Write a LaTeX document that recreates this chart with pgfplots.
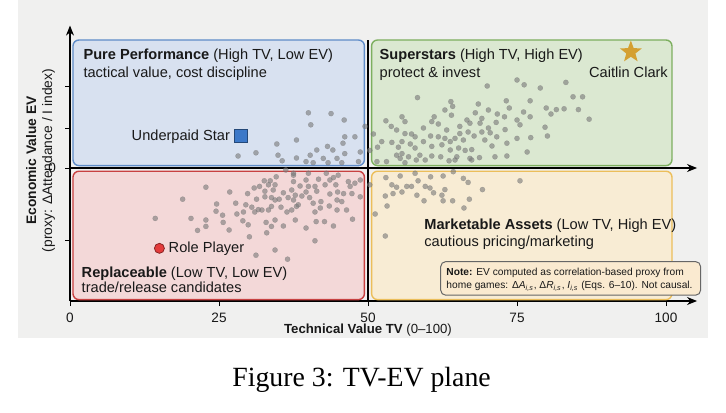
\documentclass[border=0pt]{standalone}
\usepackage{fontspec}
\setmainfont{Liberation Sans}
\newfontfamily\capfont{Liberation Serif}
\usepackage{pgfplots}
\pgfplotsset{compat=1.18}
\usetikzlibrary{arrows.meta,shapes.geometric}

\definecolor{panel}{RGB}{240,240,239}
\definecolor{bluefill}{RGB}{216,225,240}
\definecolor{blueedge}{RGB}{95,140,200}
\definecolor{greenfill}{RGB}{219,232,209}
\definecolor{greenedge}{RGB}{125,175,95}
\definecolor{redfill}{RGB}{243,216,216}
\definecolor{rededge}{RGB}{200,65,65}
\definecolor{yellowfill}{RGB}{248,236,212}
\definecolor{yellowedge}{RGB}{236,190,90}
\definecolor{notefill}{RGB}{250,234,208}
\definecolor{ptgray}{RGB}{120,120,120}
\definecolor{sqblue}{RGB}{60,120,200}
\definecolor{gold}{RGB}{212,160,50}
\definecolor{rpred}{RGB}{228,60,60}
\definecolor{txt}{RGB}{25,25,25}

\pgfdeclareplotmark{fstar}{\node[star,star points=5,star point ratio=2.4,minimum size=11.5pt,inner sep=0pt,fill=gold,draw=none]{};}

\pgfplotstableread{
x y
34.7 0.30
38.0 0.35
31.2 0.19
28.2 0.15
34.9 0.16
35.6 0.09
38.0 0.125
36.2 -0.025
37.5 -0.09
34.6 -0.11
33.6 -0.16
32.6 -0.16
34.4 -0.21
33.3 -0.21
37.5 -0.17
22.8 -0.24
26.8 -0.30
29.8 -0.32
30.9 -0.25
31.8 -0.23
32.7 -0.29
34.1 -0.275
35.8 -0.31
37.2 -0.275
37.8 -0.34
18.9 -0.39
31.3 -0.39
32.7 -0.36
33.8 -0.37
34.4 -0.40
35.1 -0.39
36.6 -0.37
37.5 -0.40
24.6 -0.45
27.8 -0.44
29.5 -0.46
30.5 -0.49
31.6 -0.52
33.8 -0.48
35.4 -0.49
37.2 -0.525
38.0 -0.48
24.5 -0.54
25.6 -0.59
28.0 -0.575
29.1 -0.55
31.0 -0.55
32.2 -0.525
33.3 -0.525
36.4 -0.55
14.3 -0.63
20.3 -0.63
22.8 -0.65
25.7 -0.68
29.0 -0.66
32.9 -0.68
34.4 -0.65
37.8 -0.65
22.8 -0.73
26.7 -0.775
21.4 -0.78
29.9 -0.71
33.8 -0.73
35.8 -0.725
33.0 -0.81
30.1 -0.86
34.4 -1.025
31.2 -1.09
36.5 -1.14
40.0 0.69
43.8 0.68
46.0 0.60
40.4 0.54
46.1 0.39
47.8 0.39
45.8 0.31
43.2 0.27
41.4 0.225
44.1 0.225
46.1 0.18
48.7 0.20
40.3 0.16
42.5 0.12
44.8 0.12
39.6 0.08
40.8 0.066
43.3 0.066
45.6 0.066
48.4 0.08
49.5 0.52
53.0 0.59
55.7 0.64
56.2 0.58
53.9 0.52
54.8 0.475
50.9 0.425
56.2 0.43
57.3 0.425
57.9 0.39
52.3 0.33
54.0 0.32
55.7 0.33
57.1 0.30
51.6 0.26
55.1 0.26
50.3 0.22
54.8 0.16
55.7 0.18
55.4 0.12
56.8 0.14
58.1 0.10
53.1 0.08
51.5 0.08
56.2 0.066
37.5 -0.066
40.0 -0.066
43.0 -0.066
45.0 -0.09
44.2 -0.12
41.7 -0.14
39.6 -0.15
43.6 -0.15
46.7 -0.17
47.8 -0.19
48.7 -0.15
38.6 -0.225
40.0 -0.23
41.1 -0.23
42.8 -0.21
44.6 -0.21
47.0 -0.23
39.6 -0.30
41.4 -0.29
43.6 -0.325
44.9 -0.30
45.9 -0.32
47.3 -0.32
38.9 -0.35
40.2 -0.37
42.1 -0.42
44.8 -0.40
45.6 -0.42
48.7 -0.36
38.3 -0.46
40.8 -0.44
43.5 -0.475
42.0 -0.50
44.8 -0.525
46.4 -0.525
41.1 -0.55
41.3 -0.67
42.7 -0.67
47.4 -0.64
39.6 -0.75
44.2 -0.725
41.1 -0.91
53.0 -0.12
55.4 -0.10
54.0 -0.21
54.8 -0.24
56.5 -0.23
57.3 -0.23
58.4 -0.16
50.3 -0.21
52.9 -0.35
54.2 -0.32
55.7 -0.30
58.2 -0.34
53.2 -0.475
51.2 -0.575
52.9 -0.85
70.0 1.025
75.0 1.10
76.2 1.04
58.3 0.88
63.9 0.83
68.5 0.80
73.2 0.84
77.2 0.84
62.9 0.725
64.2 0.77
70.2 0.725
73.7 0.75
76.1 0.70
77.2 0.64
64.0 0.66
61.1 0.64
68.0 0.69
71.7 0.675
72.9 0.64
75.0 0.60
69.1 0.62
66.6 0.60
60.7 0.58
61.8 0.55
65.4 0.52
67.1 0.56
68.8 0.56
70.2 0.50
71.5 0.57
73.0 0.48
75.5 0.54
59.3 0.50
63.2 0.475
65.4 0.43
66.8 0.45
69.1 0.45
70.5 0.44
71.6 0.39
75.0 0.37
77.3 0.38
60.5 0.40
61.8 0.39
62.9 0.37
64.6 0.37
67.8 0.40
69.6 0.35
59.3 0.33
62.4 0.29
63.8 0.33
66.0 0.35
73.3 0.31
57.9 0.25
60.7 0.27
63.8 0.225
65.2 0.25
66.3 0.22
67.4 0.23
70.8 0.275
76.7 0.20
58.7 0.16
60.7 0.15
62.2 0.14
64.9 0.14
67.1 0.12
68.7 0.13
71.3 0.14
73.3 0.15
59.6 0.10
63.6 0.09
64.6 0.10
67.4 0.10
64.3 -0.046
57.9 -0.066
60.5 -0.11
62.6 -0.10
66.0 -0.13
66.8 -0.18
75.5 -0.16
59.6 -0.23
60.4 -0.25
62.9 -0.27
69.2 -0.27
61.0 -0.31
62.4 -0.34
59.4 -0.41
62.6 -0.41
64.2 -0.41
67.0 -0.39
66.1 -0.50
83.2 1.07
78.9 1.00
84.4 0.89
86.0 0.89
79.9 0.75
81.6 0.73
82.9 0.74
85.3 0.73
80.7 0.675
87.1 0.61
79.7 0.51
80.1 0.40
}\players

\begin{document}
\begin{tikzpicture}
\useasboundingbox (0,0) rectangle (363pt,206pt);
\fill[panel] (9pt,37pt) rectangle (354pt,206pt);
\node[font=\capfont\fontsize{13.9}{15.5}\selectfont, anchor=base, text=black] at (180.8pt,12.7pt) {Figure 3: TV-EV plane};
\begin{axis}[
  at={(35pt,55.5pt)}, anchor=south west,
  scale only axis, width=313.5pt, height=137.7pt,
  xmin=0, xmax=105.2, ymin=-1.6625, ymax=1.78,
  axis x line=bottom, axis y line=left,
  axis line style={line width=0.6pt, black, -{Stealth[length=5pt,width=4pt]}},
  xtick={0,25,50,75,100},
  ytick={-0.9,0,0.5,1.02}, yticklabels={,0,,},
  tick align=outside, major tick length=2.5pt,
  tick style={black, line width=0.5pt},
  tick label style={font=\fontsize{6.8}{8}\selectfont, text=txt},
  yticklabel style={xshift=-1pt},
  /pgf/number format/assume math mode=true,
  ylabel={{\bfseries Economic Value EV}\\(proxy: ΔAttendance / I index)},
  ylabel style={at={(axis description cs:-0.047,0.51)}, anchor=center, rotate=0,
    align=center, inner sep=0pt, font=\fontsize{6.9}{8}\selectfont, text=txt},
  clip=false,
]
% quadrant boxes
\draw[blueedge, fill=bluefill, line width=0.7pt, rounded corners=3pt] (axis cs:0.5,0.03) rectangle (axis cs:49.4,1.6);
\draw[greenedge, fill=greenfill, line width=0.7pt, rounded corners=3pt] (axis cs:50.6,0.03) rectangle (axis cs:101,1.6);
\draw[rededge, fill=redfill, line width=0.7pt, rounded corners=3pt] (axis cs:0.5,-1.645) rectangle (axis cs:49.4,-0.04);
\draw[yellowedge, fill=yellowfill, line width=0.7pt, rounded corners=3pt] (axis cs:50.6,-1.645) rectangle (axis cs:101,-0.04);
% dividing lines
\draw[line width=0.6pt, black, -{Stealth[length=5pt,width=4pt]}] (axis cs:0,0) -- (axis cs:105.2,0);
\draw[line width=0.6pt, black] (axis cs:50,-1.6625) -- (axis cs:50,1.6);
% players
\addplot[only marks, mark=*, mark size=1.3pt, color=ptgray, mark options={fill=ptgray, draw=ptgray, line width=0.1pt, opacity=0.6}] table[x=x,y=y] {\players};
\addplot[only marks, mark=square*, mark size=3.25pt, mark options={fill=sqblue, draw=sqblue!60!black, line width=0.4pt}] coordinates {(28.7,0.40)};
\addplot[only marks, mark=*, mark size=2.5pt, mark options={fill=rpred, draw=rpred!60!black, line width=0.4pt}] coordinates {(15.0,-1.004)};
\addplot[only marks, mark=fstar] coordinates {(94.1,1.45)};
% texts
\begin{scope}[every node/.style={font=\fontsize{7.3}{8.8}\selectfont, text=txt, inner sep=0pt}]
\node[anchor=base west] at (axis cs:2.2,1.35) {\textbf{Pure Performance} (High TV, Low EV)};
\node[anchor=base west] at (axis cs:2.2,1.134) {tactical value, cost discipline};
\node[anchor=base west] at (axis cs:51.9,1.35) {\textbf{Superstars} (High TV, High EV)};
\node[anchor=base west] at (axis cs:51.9,1.134) {protect \& invest};
\node[anchor=base] at (axis cs:93.7,1.134) {Caitlin Clark};
\node[anchor=base west] at (axis cs:59.4,-0.766) {\textbf{Marketable Assets} (Low TV, High EV)};
\node[anchor=base west] at (axis cs:59.4,-0.98) {cautious pricing/marketing};
\node[anchor=base west] at (axis cs:1.9,-1.366) {\textbf{Replaceable} (Low TV, Low EV)};
\node[anchor=base west] at (axis cs:1.9,-1.56) {trade/release candidates};
\node[anchor=base east] at (axis cs:26.9,0.34) {Underpaid Star};
\node[anchor=base west] at (axis cs:16.5,-1.06) {Role Player};
\end{scope}
% note
\draw[black!60, fill=notefill, line width=0.5pt, rounded corners=2.5pt] (axis cs:62.2,-1.59) rectangle (axis cs:105.8,-1.17);
\begin{scope}[every node/.style={font=\fontsize{5.1}{6.2}\selectfont, text=txt, inner sep=0pt}]
\node[anchor=base west] at (axis cs:63.1,-1.34) {\textbf{Note:} EV computed as correlation-based proxy from};
\node[anchor=base west] at (axis cs:63.1,-1.50) {home games: Δ\textit{A}\textsubscript{\textit{i,s}}, Δ\textit{R}\textsubscript{\textit{i,s}}, \textit{I}\textsubscript{\textit{i,s}} (Eqs. 6--10). Not causal.};
\end{scope}
% x label
\node[anchor=base, inner sep=0pt, font=\fontsize{6.6}{8}\selectfont, text=txt] at (axis cs:50,-2.0625) {\textbf{Technical Value TV} (0--100)};
\end{axis}
\end{tikzpicture}
\end{document}
